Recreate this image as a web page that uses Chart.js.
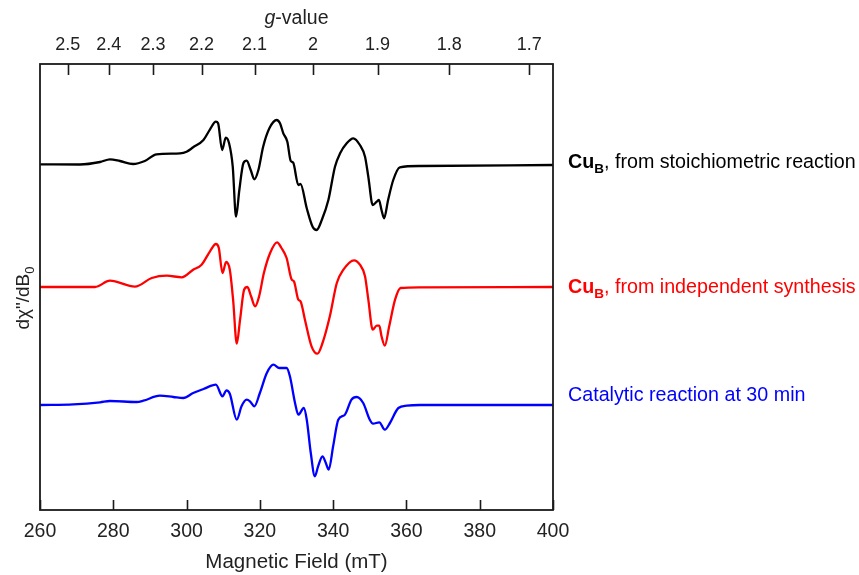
<!DOCTYPE html>
<html>
<head>
<meta charset="utf-8">
<script src="https://cdn.jsdelivr.net/npm/chart.js@4/dist/chart.umd.min.js"></script>
<style>
  html, body { margin: 0; padding: 0; background: #fff; }
  #wrap { width: 859px; height: 575px; position: relative; }
</style>
</head>
<body>
<div id="wrap"><canvas id="c" width="859" height="575"></canvas></div>
<script>
// ---- Data ----
const fieldTicks = [260, 280, 300, 320, 340, 360, 380, 400];
const gTickValues = [2.5, 2.4, 2.3, 2.2, 2.1, 2.0, 1.9, 1.8, 1.7];
const gTickLabels = ['2.5', '2.4', '2.3', '2.2', '2.1', '2', '1.9', '1.8', '1.7'];
const gFieldConstant = 669.0; // B(mT) * g at the spectrometer frequency

const blackField = [260, 270.9, 276.4, 279.1, 281.8, 285.4, 288.6, 291.8, 298.2, 300.0, 301.8, 304.6, 306.4, 308.0, 308.6, 309.7, 310.7, 311.6, 312.6, 313.5, 314.4, 315.5, 316.4, 317.5, 318.5, 319.6, 320.9, 322.6, 324.6, 325.5, 326.4, 327.5, 328.4, 329.1, 330.5, 331.1, 332.8, 334.4, 335.5, 336.9, 338.7, 340.5, 341.9, 343.7, 345.5, 347.3, 348.7, 349.6, 350.8, 351.9, 352.5, 353.2, 353.9, 355.0, 356.4, 358.2, 363.7, 400];
const blackSignal = [0.7, 0.5, 3, 5.7, 4, 1, 4, 10.7, 11.7, 13.3, 17.7, 25, 35.7, 43.3, 41.7, 15, 27.3, 21.7, -1.7, -51.7, -25, 1.7, 4.3, -5, -14.3, -5, 18.3, 36.7, 45, 41.7, 31.7, 23.3, 4.3, 2.3, -20, -19, -43.3, -61.7, -65, -55, -35, -1.7, 11.7, 21.7, 26.7, 20, 8.3, -11.7, -40, -36.7, -35, -45, -53.3, -35, -15, -2.3, -1, 0];

const redField = [260, 275, 279.1, 285.9, 290.5, 294.6, 298.7, 301.8, 304.1, 306.4, 308.0, 308.8, 309.8, 310.8, 311.8, 312.7, 313.7, 314.6, 315.7, 316.6, 317.6, 318.7, 319.8, 321.1, 322.8, 324.7, 325.9, 327.3, 328.7, 329.3, 330.5, 331.1, 332.3, 334.1, 335.7, 337.1, 339.1, 341.0, 342.8, 345.7, 347.3, 348.7, 349.6, 350.8, 351.9, 352.6, 353.2, 354.1, 355.3, 356.9, 358.4, 363.7, 400];
const redSignal = [0, 0, 6.3, 0.3, 9, 11.3, 9.7, 17.3, 22.3, 35.7, 43, 39, 14, 25, 17.3, -12.7, -56.7, -32.7, -2.7, 0, -9.3, -19.3, -9.3, 14, 34, 44.7, 39, 29, 7.3, 5.7, -12.7, -14.3, -32.7, -59.3, -66.7, -56, -29.3, 4, 17.3, 26.7, 22.3, 10.7, -12.7, -42.7, -38.7, -38.7, -49.3, -58.7, -39.3, -12.7, -1, -0.3, 0];

const blueField = [260, 269.1, 276.4, 279.1, 286.4, 288.2, 292.7, 296.4, 299.1, 301.8, 304.6, 308.0, 309.8, 310.9, 311.8, 313.7, 315.0, 316.4, 317.3, 318.5, 320.0, 321.9, 323.7, 325.3, 327.3, 328.2, 329.6, 330.5, 332.0, 332.8, 333.9, 335.0, 335.9, 337.1, 338.0, 338.8, 340.0, 341.4, 343.2, 345.0, 346.4, 348.2, 350.0, 350.9, 352.6, 354.1, 355.5, 357.8, 360.1, 363.7, 400];
const blueSignal = [0, 0.7, 2.7, 4, 3, 4.3, 9.3, 8, 7, 12, 16, 20.3, 8.7, 14.7, 11.3, -14.7, -1.3, 5.3, 3.7, -1.3, 12, 32, 40.3, 37, 37, 28.7, 2, -9.7, -3, -14.7, -48, -71.3, -61.3, -51.3, -58, -64.7, -41.3, -14.7, -9.7, 5.3, 8, 2, -14.7, -18.7, -17.3, -24.7, -18, -3, -0.7, 0, 0];

const traceOffsets = [0, -122, -240];
const traceColors = ['#000000', '#ff0000', '#0000ff'];
const traceNames = ['Cu_B, from stoichiometric reaction', 'Cu_B, from independent synthesis', 'Catalytic reaction at 30 min'];

// ---- Build datasets ----
function pts(field, sig, off) { return field.map((b, i) => ({ x: b, y: sig[i] + off })); }
const datasets = [
  [blackField, blackSignal], [redField, redSignal], [blueField, blueSignal]
].map((d, i) => ({
  label: traceNames[i],
  data: pts(d[0], d[1], traceOffsets[i]),
  borderColor: traceColors[i],
  borderWidth: 2.3,
  pointRadius: 0,
  cubicInterpolationMode: 'monotone',
  fill: false
}));

const FONT = 'Liberation Sans, Arial, sans-serif';

const decor = {
  id: 'decor',
  afterDraw(chart) {
    const ctx = chart.ctx;
    const a = chart.chartArea;
    const xs = chart.scales.x, xt = chart.scales.x2;
    ctx.save();
    // frame
    ctx.strokeStyle = '#1a1a1a';
    ctx.lineWidth = 1.8;
    ctx.strokeRect(a.left, a.top, a.right - a.left, a.bottom - a.top);
    // inward ticks
    ctx.lineWidth = 1.6;
    ctx.beginPath();
    fieldTicks.forEach(v => {
      const px = Math.round(xs.getPixelForValue(v)) + 0.5;
      ctx.moveTo(px, a.bottom); ctx.lineTo(px, a.bottom - 10);
    });
    gTickValues.forEach(g => {
      const px = Math.round(xt.getPixelForValue(gFieldConstant / g)) + 0.5;
      ctx.moveTo(px, a.top); ctx.lineTo(px, a.top + 11);
    });
    ctx.stroke();

    // g-value title
    ctx.fillStyle = '#222';
    ctx.textBaseline = 'middle';
    ctx.font = 'italic 19.5px ' + FONT;
    const w1 = ctx.measureText('g').width;
    ctx.font = '19.5px ' + FONT;
    const w2 = ctx.measureText('-value').width;
    const cx = (a.left + a.right) / 2;
    let x0 = cx - (w1 + w2) / 2;
    ctx.font = 'italic 19.5px ' + FONT;
    ctx.textAlign = 'left';
    ctx.fillText('g', x0, 19);
    ctx.font = '19.5px ' + FONT;
    ctx.fillText('-value', x0 + w1, 19);

    // y-axis title
    ctx.save();
    ctx.translate(24, 298);
    ctx.rotate(-Math.PI / 2);
    ctx.font = '19px ' + FONT;
    const m = 'd\u03C7"/dB';
    const wm = ctx.measureText(m).width;
    ctx.font = '13px ' + FONT;
    const ws = ctx.measureText('0').width;
    let sx = -(wm + ws) / 2;
    ctx.font = '19px ' + FONT;
    ctx.textBaseline = 'middle';
    ctx.fillText(m, sx, 0);
    ctx.font = '13px ' + FONT;
    ctx.fillText('0', sx + wm, 6);
    ctx.restore();

    // right-hand labels
    const labelY = [163, 288, 396];
    traceNames.forEach((name, i) => {
      let x = 568;
      const y = labelY[i];
      ctx.fillStyle = traceColors[i];
      ctx.textBaseline = 'middle';
      ctx.textAlign = 'left';
      if (name.startsWith('Cu_B')) {
        ctx.font = 'bold 19.7px ' + FONT;
        ctx.fillText('Cu', x, y);
        x += ctx.measureText('Cu').width;
        ctx.font = 'bold 13.5px ' + FONT;
        ctx.fillText('B', x, y + 6);
        x += ctx.measureText('B').width;
        ctx.font = '19.7px ' + FONT;
        ctx.fillText(name.slice(4), x, y);
      } else {
        ctx.font = '19.7px ' + FONT;
        ctx.fillText(name, x, y);
      }
    });
    ctx.restore();
  }
};

new Chart(document.getElementById('c'), {
  type: 'line',
  data: { datasets },
  options: {
    responsive: false,
    animation: false,
    events: [],
    layout: { padding: { left: 40, right: 306, top: 0, bottom: 0 } },
    plugins: { legend: { display: false }, tooltip: { enabled: false } },
    scales: {
      x: {
        type: 'linear', position: 'bottom', min: 260, max: 400,
        afterFit: s => { s.height = 65; },
        afterBuildTicks: s => { s.ticks = fieldTicks.map(v => ({ value: v })); },
        grid: { display: false, drawTicks: false },
        border: { display: false },
        ticks: { color: '#222', font: { size: 19.5, family: FONT }, padding: 10, maxRotation: 0, autoSkip: false },
        title: { display: true, text: 'Magnetic Field (mT)', color: '#222', font: { size: 20.5, family: FONT }, padding: { bottom: 0, top: 0 } }
      },
      x2: {
        type: 'linear', position: 'top', min: 260, max: 400,
        afterFit: s => { s.height = 64; },
        afterBuildTicks: s => { s.ticks = gTickValues.map(g => ({ value: gFieldConstant / g })); },
        grid: { display: false, drawTicks: false },
        border: { display: false },
        ticks: {
          color: '#222', font: { size: 18, family: FONT }, padding: 8, maxRotation: 0, autoSkip: false,
          callback: (val, idx) => gTickLabels[idx]
        }
      },
      y: { display: false, min: -345, max: 101 }
    }
  },
  plugins: [decor]
});
</script>
</body>
</html>
